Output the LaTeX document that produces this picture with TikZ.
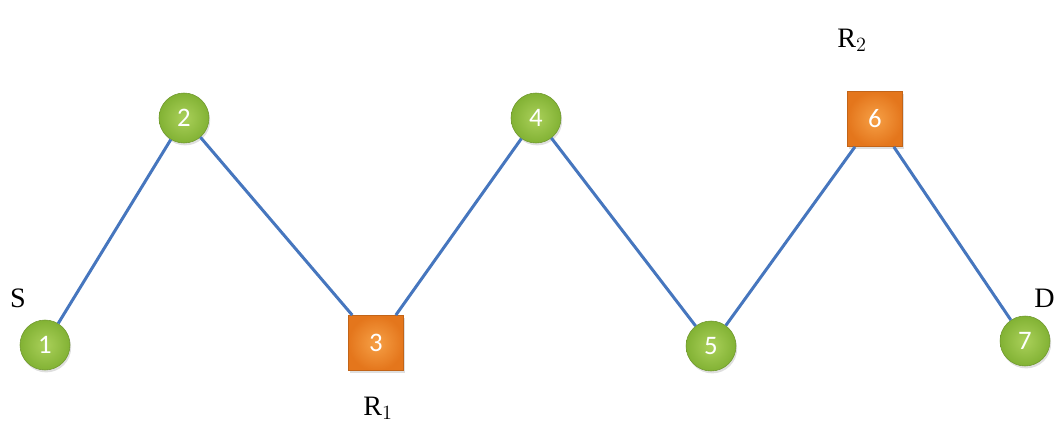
\documentclass[tikz,border=0pt]{standalone}
\usepackage{fontspec}
\setmainfont{Liberation Serif}
\newfontfamily\numfont{Carlito}
\usepackage{tikz}
\usetikzlibrary{shadows}
\definecolor{vgreen}{RGB}{130,178,52}
\definecolor{vgreenlt}{RGB}{170,208,90}
\definecolor{rorange}{RGB}{228,118,28}
\definecolor{rorangelt}{RGB}{246,160,70}
\definecolor{linkblue}{RGB}{70,118,190}
\tikzset{
    vnode/.style = {circle, minimum size=12.5mm, inner sep=0pt,
        inner color=vgreenlt, outer color=vgreen, draw=vgreen!85!black, line width=0.4pt,
        drop shadow={shadow xshift=0.3mm, shadow yshift=-0.6mm, opacity=0.25},
        text=white, font=\numfont\fontsize{19}{19}\selectfont},
    rnode/.style = {rectangle, minimum size=13.8mm, inner sep=0pt,
        inner color=rorangelt, outer color=rorange, draw=rorange!85!black, line width=0.4pt,
        drop shadow={shadow xshift=0.3mm, shadow yshift=-0.6mm, opacity=0.25},
        text=white, font=\numfont\fontsize{19}{19}\selectfont},
    link/.style = {draw=linkblue, line width=0.75mm},
    tag/.style = {font=\fontsize{20}{20}\selectfont, inner sep=0pt},
}
\begin{document}
\begin{tikzpicture}[x=0.25mm, y=-0.25mm]
\useasboundingbox (0,0) rectangle (1056,430);

\node[vnode] (n1) at (45,345) {1};
\node[vnode] (n2) at (184,118) {2};
\node[rnode] (n3) at (376,343) {3};
\node[vnode] (n4) at (536,118) {4};
\node[vnode] (n5) at (711,346) {5};
\node[rnode] (n6) at (875,119) {6};
\node[vnode] (n7) at (1025,341) {7};

% links
\draw[link] (n1) -- (n2);
\draw[link] (n2) -- (n3);
\draw[link] (n3) -- (n4);
\draw[link] (n4) -- (n5);
\draw[link] (n5) -- (n6);
\draw[link] (n6) -- (n7);

\node[tag] (lS) at (18,298) {S};
\node[tag] (lR1) at (378,408) {R$_1$};
\node[tag] (lR2) at (852,40) {R$_2$};
\node[tag, anchor=east] (lD) at (1055,298) {D};
\end{tikzpicture}
\end{document}
